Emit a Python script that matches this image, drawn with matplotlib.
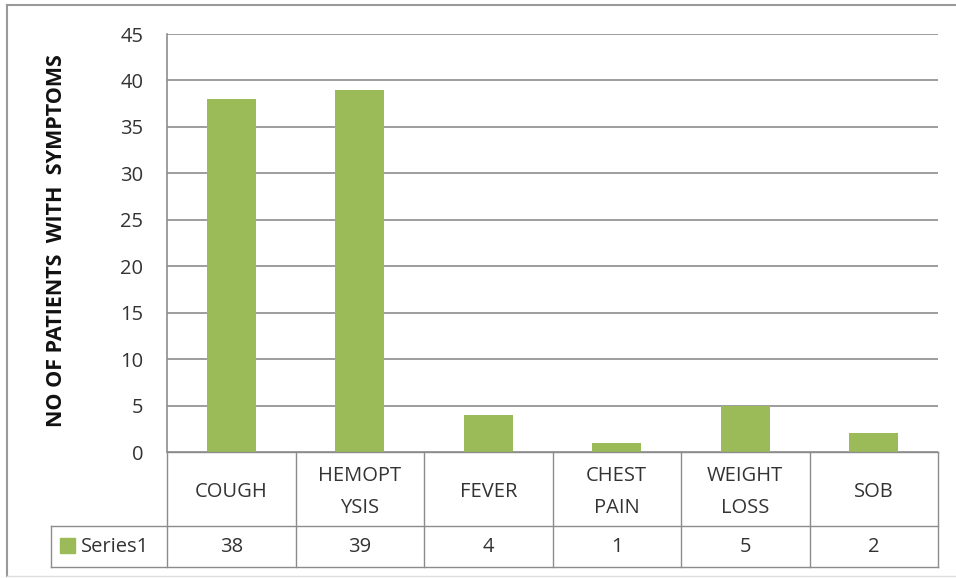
import matplotlib
matplotlib.use("Agg")
import matplotlib.pyplot as plt
from matplotlib.lines import Line2D
from matplotlib.patches import Rectangle
from matplotlib.transforms import blended_transform_factory

categories = ["COUGH", "HEMOPT\nYSIS", "FEVER", "CHEST\nPAIN", "WEIGHT\nLOSS", "SOB"]
values = [38, 39, 4, 1, 5, 2]
series_name = "Series1"
yticks = [0, 5, 10, 15, 20, 25, 30, 35, 40, 45]
ylabel = "NO OF PATIENTS  WITH  SYMPTOMS"

W, H = 956, 578
bar_color = "#9BBB59"
grid_color = "#8C8C8C"
text_color = "#333333"
font = "Open Sans"

fig = plt.figure(figsize=(W / 100, H / 100), dpi=100)
fig.patch.set_facecolor("white")

def fx(px):
    return px / W

def fy(py):
    return 1 - py / H

left, right, top, bottom = 167, 938, 34, 452
ax = fig.add_axes([fx(left), fy(bottom), fx(right) - fx(left), fy(top) - fy(bottom)])

x = list(range(len(categories)))
ax.bar(x, values, width=0.38, color=bar_color, zorder=3)
ax.set_xlim(-0.5, len(categories) - 0.5)
ax.set_ylim(0, 45)
ax.set_yticks(yticks)
ax.set_yticklabels([str(t) for t in yticks], fontsize=14.5, family=font, color=text_color)
ax.tick_params(axis="y", length=0, pad=17)
ax.set_xticks([])
ax.grid(axis="y", color=grid_color, linewidth=1.2, zorder=0)
for s in ["top", "right", "bottom"]:
    ax.spines[s].set_visible(False)
ax.spines["left"].set_color(grid_color)
ax.spines["left"].set_linewidth(1.2)

fig.text(fx(57), fy(241), ylabel, rotation=90, ha="center", va="center",
         fontsize=15.5, fontweight="bold", family=font, color="#111111")

# data table
row1_bot, row2_top, row2_bot = 526, 526, 567
legend_left = 51
col_w = (right - left) / len(categories)
lw = 1.0
def hline(y, x0, x1):
    fig.add_artist(Line2D([fx(x0), fx(x1)], [fy(y), fy(y)], color=grid_color, lw=lw))
def vline(xp, y0, y1):
    fig.add_artist(Line2D([fx(xp), fx(xp)], [fy(y0), fy(y1)], color=grid_color, lw=lw))

hline(bottom, left, right)
hline(row1_bot, legend_left, right)
hline(row2_bot, legend_left, right)
vline(legend_left, row2_top, row2_bot)
for i in range(len(categories) + 1):
    vline(left + i * col_w, bottom, row2_bot)

trans = blended_transform_factory(ax.transData, fig.transFigure)
for i, (c, v) in enumerate(zip(categories, values)):
    fig.text(i, fy((bottom + row1_bot) / 2 + 3), c, transform=trans, ha="center", va="center",
             fontsize=14.5, family=font, color=text_color, linespacing=1.85)
    fig.text(i, fy((row2_top + row2_bot) / 2 + 1), str(v), transform=trans, ha="center", va="center",
             fontsize=14.5, family=font, color=text_color)

fig.add_artist(Rectangle((fx(60), fy(553)), fx(15), fy(538) - fy(553), color=bar_color))
fig.text(fx(81), fy(547), series_name, ha="left", va="center", fontsize=14.5, family=font, color=text_color)

# outer chart border
fig.add_artist(Line2D([fx(7), fx(7)], [fy(5), fy(576)], color="#999999", lw=1.5))
fig.add_artist(Line2D([fx(7), fx(956)], [fy(5), fy(5)], color="#999999", lw=1.5))
fig.add_artist(Line2D([fx(7), fx(956)], [fy(576), fy(576)], color="#dddddd", lw=1.0))

fig.savefig("out.png", dpi=100, facecolor="white")
